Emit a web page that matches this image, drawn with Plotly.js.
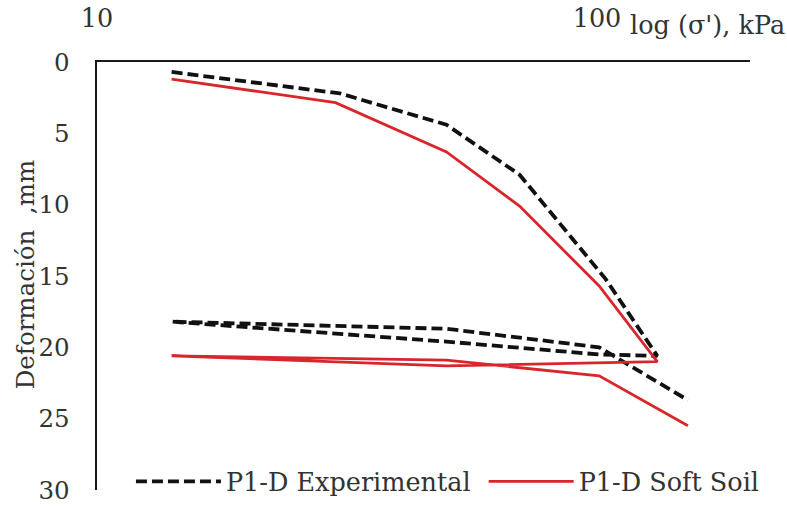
<!DOCTYPE html>
<html>
<head>
<meta charset="utf-8">
<script src="https://cdn.plot.ly/plotly-3.0.1.min.js"></script>
<style>html,body{margin:0;padding:0;background:#fff;}#chart{width:787px;height:506px;}</style>
</head>
<body>
<div id="chart"></div>
<script>
// Effective stress (kPa) and deformation (mm): loading -> unloading -> reloading path
const expStress = [14.1, 30.6, 50, 70, 104, 132, 101, 50, 14.1, 50, 101, 152];
const expDeform = [0.7, 2.2, 4.4, 7.9, 15.2, 20.6, 20.5, 19.6, 18.2, 18.7, 20.0, 23.7];
const softStress = [14.1, 30, 50, 70, 101, 132, 50, 14.1, 50, 101, 152];
const softDeform = [1.2, 2.85, 6.3, 10.1, 15.7, 21.0, 21.3, 20.6, 20.9, 22.0, 25.5];
const seriesNames = ['P1-D Experimental\u00a0', 'P1-D Soft Soil'];
const xTickVals = [10, 100];
const xTickText = ['10', '100'];
const yTickVals = [0, 5, 10, 15, 20, 25, 30];
const yTitle = 'Deformación\u00a0 ,mm';
const xTitle = "log (σ'), kPa";

const font = 'DejaVu Serif, Liberation Serif, serif';
const txt = '#333333';
const fs = 25.5;

const traces = [
  {x: expStress, y: expDeform, name: seriesNames[0], type: 'scatter', mode: 'lines',
   line: {color: '#111111', width: 3.8, dash: '11px,5px'}},
  {x: softStress, y: softDeform, name: seriesNames[1], type: 'scatter', mode: 'lines',
   line: {color: '#d8262c', width: 2.8}}
];

const layout = {
  width: 787, height: 506,
  margin: {l: 97, r: 37, t: 62, b: 16, autoexpand: false},
  paper_bgcolor: '#ffffff', plot_bgcolor: '#ffffff',
  font: {family: font, size: fs, color: txt},
  showlegend: true,
  legend: {orientation: 'h', x: 0.052, xanchor: 'left', y: 0.019, yanchor: 'middle',
           bgcolor: 'rgba(0,0,0,0)', itemwidth: 85,
           font: {family: font, size: fs, color: txt}, traceorder: 'normal'},
  xaxis: {type: 'log', range: [1, 2.306], side: 'top', automargin: false,
          tickvals: xTickVals, ticktext: xTickText,
          ticks: 'outside', ticklen: 22, tickcolor: 'rgba(0,0,0,0)',
          showline: true, linecolor: '#1a1a1a', linewidth: 2.5,
          showgrid: false, zeroline: false, ticklabeloverflow: 'allow',
          tickfont: {family: font, size: fs, color: txt}},
  yaxis: {range: [30, 0], tickvals: yTickVals, automargin: false,
          ticks: 'outside', ticklen: 20, tickcolor: 'rgba(0,0,0,0)',
          showline: true, linecolor: '#1a1a1a', linewidth: 2.5,
          showgrid: false, zeroline: false, ticklabeloverflow: 'allow',
          tickfont: {family: font, size: 24.5, color: txt}},
  annotations: [
    {text: xTitle, xref: 'paper', yref: 'paper',
     x: 0.813, y: 1.086, xanchor: 'left', yanchor: 'middle', showarrow: false,
     font: {family: font, size: fs, color: txt}},
    {text: yTitle, xref: 'paper', yref: 'paper', textangle: -90,
     x: -0.110, y: 0.502, xanchor: 'center', yanchor: 'middle', showarrow: false,
     font: {family: font, size: 24.5, color: txt}}
  ]
};

Plotly.newPlot('chart', traces, layout, {displayModeBar: false, staticPlot: true});
</script>
</body>
</html>
